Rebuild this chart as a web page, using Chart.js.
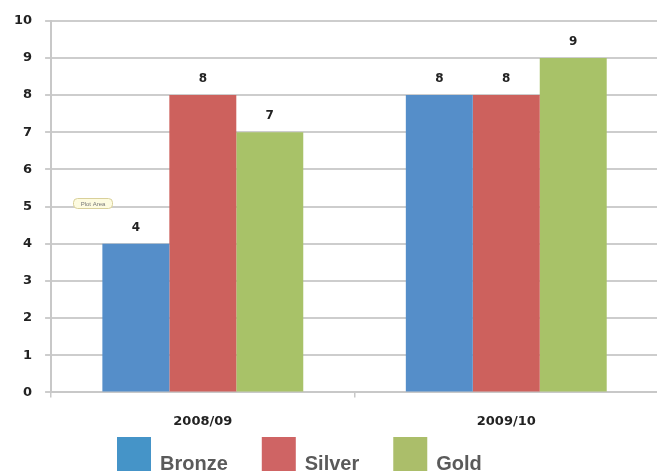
<!DOCTYPE html>
<html>
<head>
<meta charset="utf-8">
<script src="https://cdn.jsdelivr.net/npm/chart.js@4"></script>
<style>
  html, body { margin: 0; padding: 0; background: #fff; overflow: hidden; }
  #wrap { width: 664px; height: 472px; }
</style>
</head>
<body>
<div id="wrap"><canvas id="medalChart"></canvas></div>
<script>
const seasons = ['2008/09', '2009/10'];
const bronze = [4, 8];
const silver = [8, 8];
const gold = [7, 9];
const yTicks = [0, 1, 2, 3, 4, 5, 6, 7, 8, 9, 10];

const barColors = ['#558ec9', '#cd615d', '#a8c268'];
const legendColors = ['#4594c8', '#cf6464', '#abbe6a'];
const tickFont = '"DejaVu Sans", Verdana, sans-serif';

// value labels above each bar
const valueLabels = {
    id: 'valueLabels',
    afterDatasetsDraw(chart) {
        const ctx = chart.ctx;
        ctx.save();
        ctx.font = 'bold 12px "DejaVu Sans", Verdana, sans-serif';
        ctx.fillStyle = '#222';
        ctx.textAlign = 'center';
        ctx.textBaseline = 'middle';
        chart.data.datasets.forEach((ds, i) => {
            chart.getDatasetMeta(i).data.forEach((bar, j) => {
                ctx.fillText(ds.data[j], bar.x, bar.y - 16);
            });
        });
        ctx.restore();
    }
};

// legend drawn under the axis, text sits low beside the boxes
const bottomLegend = {
    id: 'bottomLegend',
    afterDraw(chart) {
        const ctx = chart.ctx;
        ctx.save();
        ctx.font = 'bold 20px "Liberation Sans", Arial, sans-serif';
        ctx.textBaseline = 'alphabetic';
        const box = 34, gap = 9, pad = 34;
        let x = 117;
        chart.data.datasets.forEach((ds, i) => {
            ctx.fillStyle = legendColors[i];
            ctx.fillRect(x, 437, box, box);
            ctx.fillStyle = '#5a5a5a';
            ctx.fillText(ds.label, x + box + gap, 470);
            x += box + gap + ctx.measureText(ds.label).width + pad;
        });
        // little "Plot Area" hover tag left in the screenshot
        ctx.fillStyle = '#fdfbe0';
        ctx.strokeStyle = '#d9d09a';
        ctx.lineWidth = 1;
        ctx.beginPath();
        ctx.roundRect(73.5, 198.5, 39, 10, 4);
        ctx.fill();
        ctx.stroke();
        ctx.fillStyle = '#777';
        ctx.font = '6px "Liberation Sans", Arial, sans-serif';
        ctx.textAlign = 'center';
        ctx.textBaseline = 'middle';
        ctx.fillText('Plot Area', 93, 204);
        ctx.restore();
    }
};

new Chart(document.getElementById('medalChart'), {
    type: 'bar',
    data: {
        labels: seasons,
        datasets: [
            { label: 'Bronze', data: bronze, backgroundColor: barColors[0] },
            { label: 'Silver', data: silver, backgroundColor: barColors[1] },
            { label: 'Gold', data: gold, backgroundColor: barColors[2] }
        ]
    },
    options: {
        responsive: true,
        maintainAspectRatio: false,
        animation: false,
        layout: { padding: { left: 1, right: 6, top: 7, bottom: 27 } },
        datasets: { bar: { categoryPercentage: 0.662, barPercentage: 1.0 } },
        plugins: {
            legend: { display: false },
            tooltip: { enabled: false }
        },
        scales: {
            x: {
                grid: { drawOnChartArea: false, drawTicks: true, tickLength: 5, color: '#c8c8c8', lineWidth: 1.5 },
                border: { color: '#c8c8c8', width: 2 },
                ticks: { color: '#222', padding: 16, font: { family: tickFont, size: 13, weight: 'bold' } }
            },
            y: {
                min: 0,
                max: 10,
                afterBuildTicks: axis => { axis.ticks = yTicks.map(v => ({ value: v })); },
                grid: { color: '#cdcdcd', lineWidth: 2, tickLength: 6 },
                border: { color: '#c8c8c8', width: 2 },
                ticks: { color: '#222', padding: 13, font: { family: tickFont, size: 13, weight: 'bold' } }
            }
        }
    },
    plugins: [valueLabels, bottomLegend]
});
</script>
</body>
</html>
